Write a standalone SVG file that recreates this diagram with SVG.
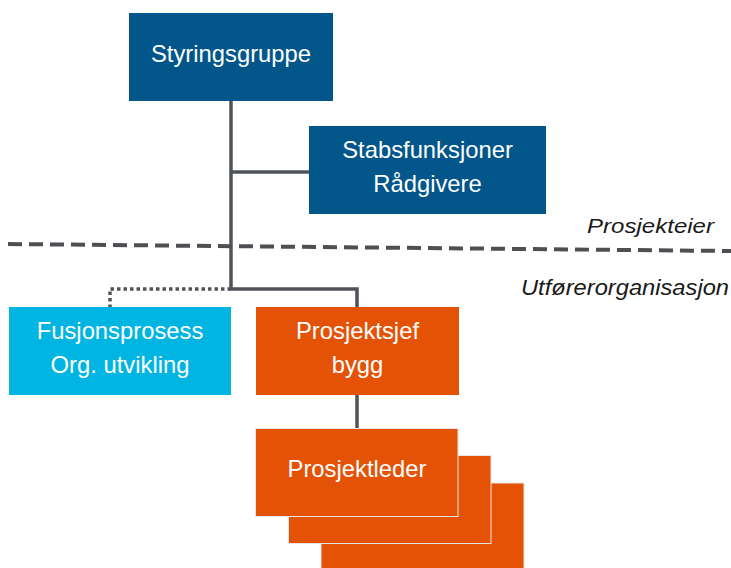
<svg xmlns="http://www.w3.org/2000/svg" width="731" height="568" viewBox="0 0 731 568">
<style>
.t{font-family:"Liberation Sans",Arial,sans-serif;font-size:23.8px;fill:#fff;text-anchor:middle}
.lbl{font-family:"Liberation Sans",Arial,sans-serif;font-style:italic;fill:#1a1a1a}
.blue{fill:#02568A}
.cyan{fill:#00B5E2}
.org{fill:#E35205;stroke:#e6e6e6;stroke-width:1}
.ln{stroke:#505459;stroke-width:3.5;fill:none}
</style>
<rect width="731" height="568" fill="#fff"/>
<g id="connectors">
<path class="ln" d="M231 101 V289 H357 V307"/>
<path class="ln" d="M231 172 H309"/>
<path class="ln" d="M357 395 V429"/>
<path d="M231 289 H110 V307" fill="none" stroke="#505459" stroke-width="3.5" stroke-dasharray="3.5 3"/>
</g>
<g id="divider">
<line x1="8" y1="244" x2="731" y2="251" stroke="#4D4F53" stroke-width="4" stroke-dasharray="14 7"/>
<text class="lbl" x="587" y="233" font-size="20.5" textLength="127" lengthAdjust="spacingAndGlyphs">Prosjekteier</text>
<text class="lbl" x="521" y="295" font-size="22" textLength="208" lengthAdjust="spacingAndGlyphs">Utførerorganisasjon</text>
</g>
<g id="styringsgruppe">
<rect class="blue" x="129" y="13" width="204" height="88"/>
<text class="t" x="231" y="62">Styringsgruppe</text>
</g>
<g id="stabsfunksjoner">
<rect class="blue" x="309" y="126" width="237" height="88"/>
<text class="t" x="427.5" y="158">Stabsfunksjoner</text>
<text class="t" x="427.5" y="192">Rådgivere</text>
</g>
<g id="fusjonsprosess">
<rect class="cyan" x="9" y="307" width="222" height="88"/>
<text class="t" x="120" y="339">Fusjonsprosess</text>
<text class="t" x="120" y="373">Org. utvikling</text>
</g>
<g id="prosjektsjef">
<rect fill="#E35205" x="256" y="307" width="203" height="88"/>
<text class="t" x="357.5" y="339">Prosjektsjef</text>
<text class="t" x="357.5" y="373">bygg</text>
</g>
<g id="prosjektleder">
<rect class="org" x="321" y="483" width="203" height="90"/>
<rect class="org" x="288.5" y="455.5" width="202.5" height="88"/>
<rect class="org" x="255.5" y="428.5" width="202.5" height="88"/>
<text class="t" x="357" y="477">Prosjektleder</text>
</g>
</svg>
